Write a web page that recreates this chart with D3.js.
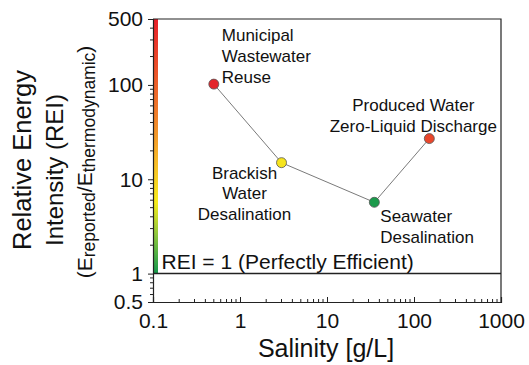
<!DOCTYPE html>
<html>
<head>
<meta charset="utf-8">
<script src="https://cdn.jsdelivr.net/npm/d3@7"></script>
<style>
  body { margin: 0; background: #fff; }
  text { font-family: "Liberation Sans", Arial, sans-serif; fill: #111; }
</style>
</head>
<body>
<div id="wrapper"></div>
<script>
// data
const names = ["Municipal Wastewater Reuse", "Brackish Water Desalination", "Seawater Desalination", "Produced Water Zero-Liquid Discharge"]
const salinity = [0.5, 3, 35, 150]
const rei = [102, 15, 5.7, 27]
const pointColors = ["#e3262b", "#f6e41e", "#1b9a4b", "#e9462b"]
const labelLines = [
  ["Municipal", "Wastewater", "Reuse"],
  ["Brackish", "Water", "Desalination"],
  ["Seawater", "Desalination"],
  ["Produced Water", "Zero-Liquid Discharge"]
]
const xTicks = [0.1, 1, 10, 100, 1000]
const yTicks = [0.5, 1, 10, 100, 500]

const dimensions = {
  width: 529,
  height: 365,
  margin: { top: 19, right: 28, bottom: 63, left: 153 }
}
dimensions.boundedWidth = dimensions.width - dimensions.margin.left - dimensions.margin.right
dimensions.boundedHeight = dimensions.height - dimensions.margin.top - dimensions.margin.bottom

const svg = d3.select("#wrapper").append("svg")
  .attr("width", dimensions.width)
  .attr("height", dimensions.height)

const bounds = svg.append("g")
  .attr("transform", `translate(${dimensions.margin.left},${dimensions.margin.top})`)

const xScale = d3.scaleLog().domain([0.1, 1000]).range([0, dimensions.boundedWidth])
const yScale = d3.scaleLog().domain([0.5, 500]).range([dimensions.boundedHeight, 0])

// gradient strip from REI=1 up to the top
const grad = svg.append("defs").append("linearGradient")
  .attr("id", "reiGrad").attr("x1", 0).attr("x2", 0).attr("y1", 0).attr("y2", 1)
grad.selectAll("stop")
  .data([[0, "#e8202a"], [0.38, "#f07f2a"], [0.55, "#f8b828"], [0.72, "#f7ec1c"], [0.85, "#8cc63e"], [1, "#13974b"]])
  .join("stop")
  .attr("offset", d => d[0])
  .attr("stop-color", d => d[1])

bounds.append("rect")
  .attr("x", 0)
  .attr("y", yScale(500))
  .attr("width", 5)
  .attr("height", yScale(1) - yScale(500))
  .attr("fill", "url(#reiGrad)")

// frame
bounds.append("path")
  .attr("d", `M0,0H${dimensions.boundedWidth}V${dimensions.boundedHeight}`)
  .attr("fill", "none").attr("stroke", "#222").attr("stroke-width", 1.2)

// REI = 1 line
bounds.append("line")
  .attr("x1", 0).attr("x2", dimensions.boundedWidth)
  .attr("y1", yScale(1)).attr("y2", yScale(1))
  .attr("stroke", "#222").attr("stroke-width", 1.5)

bounds.append("text")
  .attr("x", 8.5).attr("y", yScale(1) - 4.5)
  .style("font-size", "21px")
  .text("REI = 1 (Perfectly Efficient)")

// axes
const xMinor = []
for (let e = -1; e < 3; e++) for (let k = 2; k <= 9; k++) xMinor.push(k * Math.pow(10, e))
const yMinor = [0.6, 0.7, 0.8, 0.9]
for (let e = 0; e < 2; e++) for (let k = 2; k <= 9; k++) yMinor.push(k * Math.pow(10, e))
yMinor.push(200, 300, 400)

const xAxis = bounds.append("g")
  .attr("transform", `translate(0,${dimensions.boundedHeight})`)
xAxis.call(d3.axisBottom(xScale).tickValues(xTicks).tickSize(-5).tickFormat(d3.format("~g")))
xAxis.selectAll(".tick text").style("font-size", "21px").attr("dy", "0.75em").attr("y", 10)
xAxis.selectAll(".tick")
  .filter(d => d === 1000)
  .select("line").remove()
xAxis.append("g").selectAll("line").data(xMinor).join("line")
  .attr("x1", d => xScale(d)).attr("x2", d => xScale(d))
  .attr("y1", 0).attr("y2", -3)
  .attr("stroke", "#222")

const yAxis = bounds.append("g")
yAxis.call(d3.axisLeft(yScale).tickValues(yTicks).tickSize(5).tickFormat(d3.format("~g")).tickPadding(5))
yAxis.selectAll(".tick text").style("font-size", "21px")
yAxis.append("g").selectAll("line").data(yMinor).join("line")
  .attr("x1", 0).attr("x2", -3)
  .attr("y1", d => yScale(d)).attr("y2", d => yScale(d))
  .attr("stroke", "#222")

svg.selectAll(".domain").attr("stroke", "#222").attr("stroke-width", 1.2)
svg.selectAll(".tick line").attr("stroke", "#222")

// line + points
const line = d3.line()
  .x((d, i) => xScale(salinity[i]))
  .y((d, i) => yScale(rei[i]))

bounds.append("path")
  .attr("d", line(salinity))
  .attr("fill", "none")
  .attr("stroke", "#7a7a7a")
  .attr("stroke-width", 1)

bounds.selectAll("circle").data(salinity).join("circle")
  .attr("cx", (d, i) => xScale(salinity[i]))
  .attr("cy", (d, i) => yScale(rei[i]))
  .attr("r", 5)
  .attr("fill", (d, i) => pointColors[i])
  .attr("stroke", "#555")
  .attr("stroke-width", 0.8)

// point labels: [dx, dy of first baseline relative to point, anchor]
const labelPos = [
  [8, -43, "start"],
  [-37, 16, "middle"],
  [6, 19.5, "start"],
  [-16, -27.5, "middle"]
]
const lineGap = 20.8
labelLines.forEach((lines, i) => {
  const t = bounds.append("text")
    .attr("text-anchor", labelPos[i][2])
    .style("font-size", "17px")
  lines.forEach((s, j) => {
    t.append("tspan")
      .attr("x", xScale(salinity[i]) + labelPos[i][0])
      .attr("y", yScale(rei[i]) + labelPos[i][1] + j * lineGap)
      .text(s)
  })
})

// axis titles
svg.append("text")
  .attr("x", 326)
  .attr("y", 357)
  .attr("text-anchor", "middle")
  .style("font-size", "25px")
  .text("Salinity [g/L]")

const yTitle = svg.append("g").attr("transform", "rotate(-90)")
yTitle.append("text").attr("x", -160).attr("y", 31).attr("text-anchor", "middle")
  .style("font-size", "25.5px").text("Relative Energy")
yTitle.append("text").attr("x", -170).attr("y", 62.5).attr("text-anchor", "middle")
  .style("font-size", "24px").text("Intensity (REI)")
const sub = yTitle.append("text").attr("x", -162).attr("y", 91.5).attr("text-anchor", "middle")
  .style("font-size", "21px")
sub.append("tspan").text("(E")
sub.append("tspan").attr("dy", 3).style("font-size", "17.5px").text("reported")
sub.append("tspan").attr("dy", -3).text("/E")
sub.append("tspan").attr("dy", 3).style("font-size", "17.5px").text("thermodynamic")
sub.append("tspan").attr("dy", -3).text(")")
</script>
</body>
</html>
